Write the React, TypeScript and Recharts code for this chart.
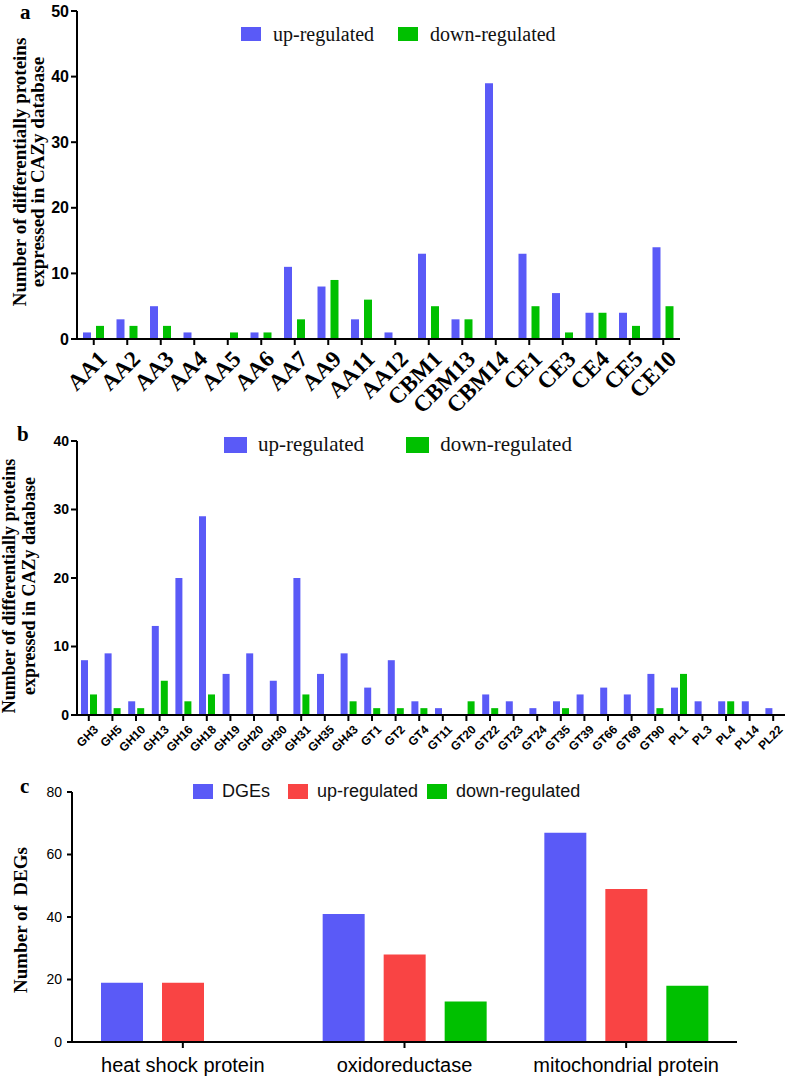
import React from 'react';
import { BarChart, Bar, XAxis, YAxis, Legend } from 'recharts';

// ─── Panel a: CAZy families (AA / CBM / CE) ─────────────────────
const familiesA = ['AA1', 'AA2', 'AA3', 'AA4', 'AA5', 'AA6', 'AA7', 'AA9', 'AA11', 'AA12', 'CBM1', 'CBM13', 'CBM14', 'CE1', 'CE3', 'CE4', 'CE5', 'CE10'];
const upA = [1, 3, 5, 1, 0, 1, 11, 8, 3, 1, 13, 3, 39, 13, 7, 4, 4, 14];
const downA = [2, 2, 2, 0, 1, 1, 3, 9, 6, 0, 5, 3, 0, 5, 1, 4, 2, 5];
const ticksA = [0, 10, 20, 30, 40, 50];

// ─── Panel b: CAZy families (GH / GT / PL) ──────────────────────
const familiesB = ['GH3', 'GH5', 'GH10', 'GH13', 'GH16', 'GH18', 'GH19', 'GH20', 'GH30', 'GH31', 'GH35', 'GH43', 'GT1', 'GT2', 'GT4', 'GT11', 'GT20', 'GT22', 'GT23', 'GT24', 'GT35', 'GT39', 'GT66', 'GT69', 'GT90', 'PL1', 'PL3', 'PL4', 'PL14', 'PL22'];
const upB = [8, 9, 2, 13, 20, 29, 6, 9, 5, 20, 6, 9, 4, 8, 2, 1, 0, 3, 2, 1, 2, 3, 4, 3, 6, 4, 2, 2, 2, 1];
const downB = [3, 1, 1, 5, 2, 3, 0, 0, 0, 3, 0, 2, 1, 1, 1, 0, 2, 1, 0, 0, 1, 0, 0, 0, 1, 6, 0, 2, 0, 0];
const ticksB = [0, 10, 20, 30, 40];

// ─── Panel c: DEG classes ───────────────────────────────────────
const classesC = ['heat shock protein', 'oxidoreductase', 'mitochondrial protein'];
const degsC = [19, 41, 67];
const upC = [19, 28, 49];
const downC = [0, 13, 18];
const ticksC = [0, 20, 40, 60, 80];

const BLUE = '#5a5af7';
const GREEN = '#00c000';
const RED = '#f94444';
const SERIF = '"Liberation Serif", "Times New Roman", serif';
const SANS = '"Liberation Sans", Arial, sans-serif';

const dataA = familiesA.map((name, i) => ({ name, up: upA[i], down: downA[i] }));
const dataB = familiesB.map((name, i) => ({ name, up: upB[i], down: downB[i] }));
const dataC = classesC.map((name, i) => ({ name, degs: degsC[i], up: upC[i], down: downC[i] }));

const axisLine = { stroke: '#000', strokeWidth: 2 };

// ─── Sub-components ──────────────────────────────────────────────

// slanted category label; its right end sits just under the tick mark
const SlantTick = ({ x, y, payload, font, size, weight, dx, dy }: any) => (
  <g transform={`translate(${x + dx}, ${y + dy}) rotate(-45)`}>
    <text x={0} y={0} textAnchor="end" dominantBaseline="hanging" fontFamily={font} fontSize={size} fontWeight={weight} fill="#000">
      {payload.value}
    </text>
  </g>
);

const SquareLegend = ({ payload, order, font, size, box, gaps, textGap }: any) => {
  const items = order.map((name: string) => (payload || []).find((p: any) => p.value === name)).filter(Boolean);
  return (
    <div style={{ display: 'flex', alignItems: 'center', whiteSpace: 'nowrap' }}>
      {items.map((p: any, i: number) => (
        <div key={p.value} style={{ display: 'flex', alignItems: 'center', marginRight: i < items.length - 1 ? gaps[i] : 0 }}>
          <span style={{ display: 'inline-block', width: box[0], height: box[1], background: p.color, marginRight: textGap }} />
          <span style={{ fontFamily: font, fontSize: size, color: '#111', lineHeight: 1 }}>{p.value}</span>
        </div>
      ))}
    </div>
  );
};

const VerticalTitle = ({ xs, cy, size, lines }: any) => (
  <g>
    {lines.map((t: string, i: number) => (
      <g key={t} transform={`translate(${xs[i]}, ${cy}) rotate(-90)`}>
        <text
          x={0}
          y={0}
          textAnchor="middle"
          dominantBaseline="central"
          fontFamily={SERIF}
          fontWeight="bold"
          fontSize={size}
          style={{ whiteSpace: 'pre' }}
          fill="#000"
        >
          {t}
        </text>
      </g>
    ))}
  </g>
);

const PanelLetter = ({ letter, left, top }: { letter: string; left: number; top: number }) => (
  <div style={{ position: 'absolute', left, top, fontFamily: SERIF, fontWeight: 'bold', fontSize: 21, lineHeight: 1 }}>
    {letter}
  </div>
);

const titleLines = ['Number of differentially proteins', 'expressed in CAZy database'];
const orderAB = ['up-regulated', 'down-regulated'];
const orderC = ['DGEs', 'up-regulated', 'down-regulated'];

export default function App() {
  return (
    <div style={{ position: 'absolute', left: 0, top: 0, width: 797, height: 1078, background: '#fff' }}>
      {/* Panel a */}
      <div style={{ position: 'absolute', left: 0, top: 0 }}>
        <BarChart width={797} height={425} data={dataA} margin={{ top: 11, right: 117, bottom: 0, left: 0 }} barSize={8} barGap={5}>
          <XAxis
            dataKey="name"
            interval={0}
            height={86}
            axisLine={axisLine}
            tickLine={axisLine}
            tickSize={6}
            tick={(p: any) => <SlantTick {...p} font={SERIF} size={23} weight="bold" dx={3} dy={2} />}
          />
          <YAxis
            width={77}
            domain={[0, 50]}
            ticks={ticksA}
            interval={0}
            axisLine={axisLine}
            tickLine={axisLine}
            tickSize={6}
            tick={{ fontFamily: SANS, fontWeight: 'bold', fontSize: 16, fill: '#000' }}
            label={{ content: () => <VerticalTitle xs={[19, 37]} cy={172} size={19} lines={titleLines} /> }}
          />
          <Legend
            layout="horizontal"
            verticalAlign="middle"
            align="center"
            wrapperStyle={{ top: 24, left: 241, width: 'auto' }}
            content={(p: any) => <SquareLegend {...p} order={orderAB} font={SERIF} size={20} box={[20, 14]} gaps={[24]} textGap={12} />}
          />
          <Bar dataKey="up" name="up-regulated" fill={BLUE} isAnimationActive={false} />
          <Bar dataKey="down" name="down-regulated" fill={GREEN} isAnimationActive={false} />
        </BarChart>
      </div>

      {/* Panel b */}
      <div style={{ position: 'absolute', left: 0, top: 420 }}>
        <BarChart width={797} height={350} data={dataB} margin={{ top: 21, right: 12, bottom: 0, left: 0 }} barSize={7} barGap={2}>
          <XAxis
            dataKey="name"
            interval={0}
            height={55}
            axisLine={axisLine}
            tickLine={axisLine}
            tickSize={6}
            tick={(p: any) => <SlantTick {...p} font={SANS} size={12} weight="bold" dx={4} dy={1} />}
          />
          <YAxis
            width={77}
            domain={[0, 40]}
            ticks={ticksB}
            interval={0}
            axisLine={axisLine}
            tickLine={axisLine}
            tickSize={6}
            tick={{ fontFamily: SANS, fontWeight: 'bold', fontSize: 14, fill: '#000' }}
            label={{ content: () => <VerticalTitle xs={[9, 29]} cy={166} size={18} lines={titleLines} /> }}
          />
          <Legend
            layout="horizontal"
            verticalAlign="middle"
            align="center"
            wrapperStyle={{ top: 14, left: 224, width: 'auto' }}
            content={(p: any) => <SquareLegend {...p} order={orderAB} font={SERIF} size={21} box={[23, 16]} gaps={[42]} textGap={11} />}
          />
          <Bar dataKey="up" name="up-regulated" fill={BLUE} isAnimationActive={false} />
          <Bar dataKey="down" name="down-regulated" fill={GREEN} isAnimationActive={false} />
        </BarChart>
      </div>

      {/* Panel c */}
      <div style={{ position: 'absolute', left: 0, top: 770 }}>
        <BarChart width={797} height={308} data={dataC} margin={{ top: 22, right: 60, bottom: 0, left: 0 }} barSize={42} barGap={19}>
          <XAxis
            dataKey="name"
            interval={0}
            height={36}
            axisLine={axisLine}
            tickLine={axisLine}
            tickSize={6}
            tick={{ fontFamily: SANS, fontSize: 20, fill: '#000', dy: 8 }}
          />
          <YAxis
            width={72}
            domain={[0, 80]}
            ticks={ticksC}
            interval={0}
            axisLine={axisLine}
            tickLine={axisLine}
            tickSize={5}
            tickMargin={5}
            tick={{ fontFamily: SANS, fontSize: 14, fill: '#000' }}
            label={{ content: () => <VerticalTitle xs={[20]} cy={150} size={19} lines={['Number of  DEGs']} /> }}
          />
          <Legend
            layout="horizontal"
            verticalAlign="middle"
            align="center"
            wrapperStyle={{ top: 12, left: 193, width: 'auto' }}
            content={(p: any) => <SquareLegend {...p} order={orderC} font={SANS} size={18} box={[20, 15]} gaps={[18, 9]} textGap={9} />}
          />
          <Bar dataKey="degs" name="DGEs" fill={BLUE} isAnimationActive={false} />
          <Bar dataKey="up" name="up-regulated" fill={RED} isAnimationActive={false} />
          <Bar dataKey="down" name="down-regulated" fill={GREEN} isAnimationActive={false} />
        </BarChart>
      </div>

      <PanelLetter letter="a" left={20} top={2} />
      <PanelLetter letter="b" left={17} top={424} />
      <PanelLetter letter="c" left={20} top={776} />
    </div>
  );
}
